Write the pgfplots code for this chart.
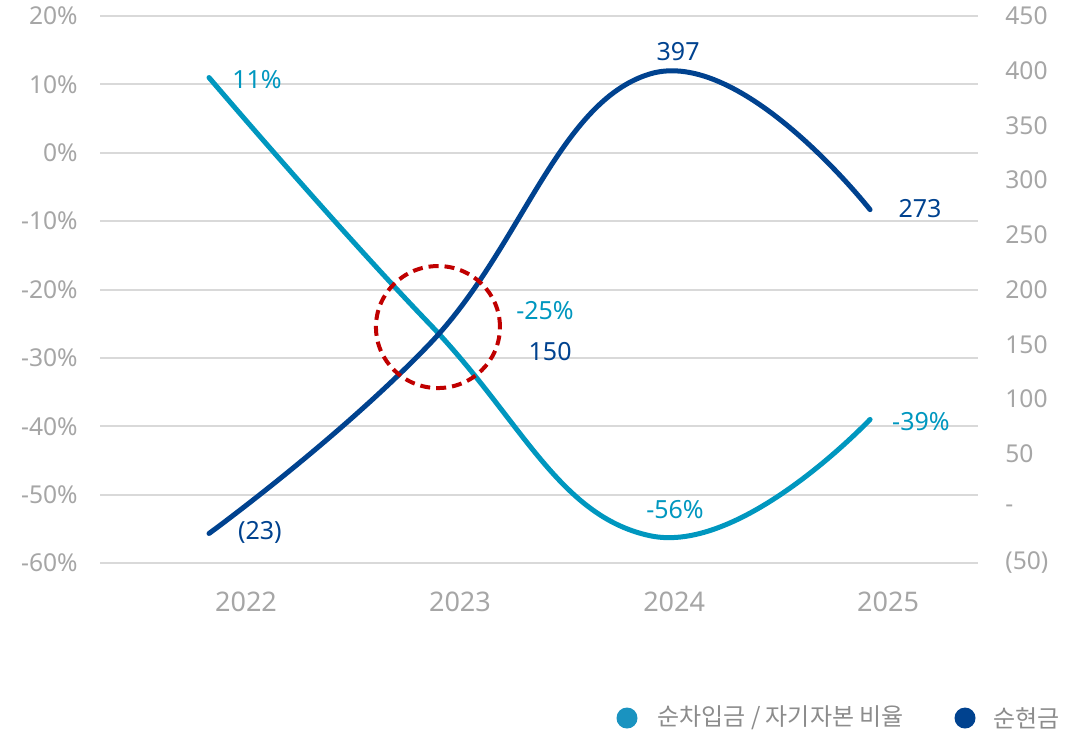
\documentclass[border=0pt]{standalone}
\usepackage{fontspec}
\setmainfont{Noto Sans}
\newfontfamily\kr{Noto Sans CJK KR}
\usepackage{pgfplots}
\pgfplotsset{compat=1.18}
\definecolor{teal1}{HTML}{0097BF}
\definecolor{tealleg}{HTML}{1A93C0}
\definecolor{navy1}{HTML}{00428F}
\definecolor{tickgray}{HTML}{A6A6A6}
\definecolor{leggray}{HTML}{8C8C8C}
\definecolor{gridgray}{HTML}{D9D9D9}
\definecolor{circred}{HTML}{C00000}
\tikzset{lbl/.style={font=\fontsize{12.5bp}{15bp}\selectfont, inner sep=0pt, anchor=center}}
\begin{document}
\begin{tikzpicture}
\pgfplotsset{
  base/.style={scale only axis, width=439bp, height=273.5bp,
    xmin=-0.4947, xmax=3.490,
    axis line style={draw=none}, major tick length=0pt, tick style={draw=none},
    clip=false,
    tick label style={font=\fontsize{12.3bp}{14bp}\selectfont, text=tickgray, inner sep=0pt},
  },
}
\begin{axis}[base,
  ymin=-60, ymax=20, ytick={-60,-50,...,20},
  yticklabels={-60\%,-50\%,-40\%,-30\%,-20\%,-10\%,0\%,10\%,20\%},
  ymajorgrids, grid style={gridgray, line width=1bp},
  yticklabel style={anchor=east, xshift=-11bp},
  xtick={0.168,1.139,2.111,3.082}, xticklabels={2022,2023,2024,2025},
  xticklabel style={anchor=north, yshift=-14.5bp, font=\fontsize{13.5bp}{16bp}\selectfont},
]
\addplot[teal1, line width=2.5bp, smooth, tension=0.75, line cap=round] coordinates {(0,11) (1,-25) (2,-56) (3,-39)};
\node[lbl, text=teal1] at (axis cs:0.218,10.64) {11\%};
\node[lbl, text=teal1] at (axis cs:1.525,-23.14) {-25\%};
\node[lbl, text=teal1] at (axis cs:2.115,-52.25) {-56\%};
\node[lbl, text=teal1] at (axis cs:3.231,-39.38) {-39\%};
\end{axis}
\begin{axis}[base,
  axis y line*=right, axis x line=none,
  ymin=-50, ymax=450, ytick={-50,0,...,450},
  yticklabels={(50),-,50,100,150,200,250,300,350,400,450},
  yticklabel style={anchor=west, xshift=13.5bp},
  xtick=\empty,
]
\addplot[navy1, line width=2.5bp, smooth, tension=0.75, line cap=round] coordinates {(0,-23) (1,150) (2,397) (3,273)};
\node[lbl, text=navy1] at (axis cs:1.548,142.9) {150};
\node[lbl, text=navy1] at (axis cs:2.129,417.1) {397};
\node[lbl, text=navy1] at (axis cs:3.227,273.6) {273};
\node[lbl, text=navy1] at (axis cs:0.231,-21.7) {(23)};
\draw[circred, line width=2bp, dash pattern=on 5bp off 3bp] (axis cs:1.039,165.7) ellipse (31bp and 30.5bp);
% legend
\fill[tealleg] (rel axis cs:0.6002,-0.2834) circle (5.25bp);
\node[anchor=west, inner sep=0pt, text=leggray, font=\kr\fontsize{12bp}{14bp}\selectfont] at (rel axis cs:0.6344,-0.2834) {순차입금 / 자기자본 비율};
\fill[navy1] (rel axis cs:0.9852,-0.2834) circle (5.25bp);
\node[anchor=west, inner sep=0pt, text=leggray, font=\kr\fontsize{12bp}{14bp}\selectfont] at (rel axis cs:1.0171,-0.2834) {순현금};
\coordinate (BL) at (rel axis cs:-0.1139,-0.3071);
\coordinate (TR) at (rel axis cs:1.1116,1.0293);
\end{axis}
\pgfresetboundingbox
\useasboundingbox (BL) rectangle (TR);
\end{tikzpicture}
\end{document}
